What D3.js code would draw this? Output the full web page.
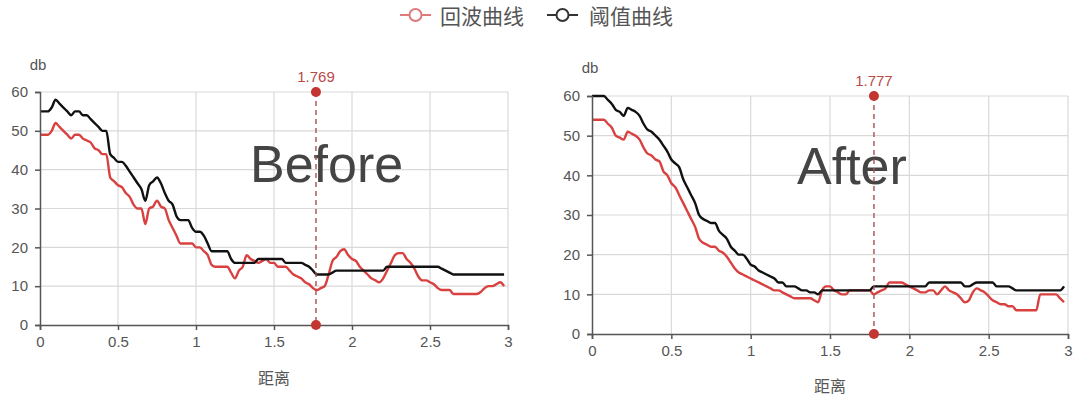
<!DOCTYPE html>
<html><head><meta charset="utf-8">
<script src="https://cdn.jsdelivr.net/npm/d3@7"></script>
<style>body{margin:0;background:#fff} svg{display:block}</style>
</head><body><svg id="c" width="1080" height="399"></svg>
<script>
const distance = [
0,0.025,0.05,0.075,0.1,0.125,0.15,0.175,0.2,0.225,
0.25,0.275,0.3,0.325,0.35,0.375,0.4,0.425,0.45,0.475,
0.5,0.525,0.55,0.575,0.6,0.625,0.65,0.675,0.7,0.725,
0.75,0.775,0.8,0.825,0.85,0.875,0.9,0.925,0.95,0.975,
1,1.025,1.05,1.075,1.1,1.125,1.15,1.175,1.2,1.225,
1.25,1.275,1.3,1.325,1.35,1.375,1.4,1.425,1.45,1.475,
1.5,1.525,1.55,1.575,1.6,1.625,1.65,1.675,1.7,1.725,
1.75,1.775,1.8,1.825,1.85,1.875,1.9,1.925,1.95,1.975,
2,2.025,2.05,2.075,2.1,2.125,2.15,2.175,2.2,2.225,
2.25,2.275,2.3,2.325,2.35,2.375,2.4,2.425,2.45,2.475,
2.5,2.525,2.55,2.575,2.6,2.625,2.65,2.675,2.7,2.725,
2.75,2.775,2.8,2.825,2.85,2.875,2.9,2.925,2.95,2.975];

const beforeEcho = [
49,49,49,50,52,51,50,49,48,49,
49,48,47.5,47,45.5,45,44,44,38,37,
36,35.5,34,33,31,30,30,26,30,30.5,
32,30.5,30,27,25,23,21,21,21,21,
20,20,19,18,15.5,15,15,15,15,13.5,
12,14,15,18,17,16.5,16,16.5,17,16,
16,15,15,15,14,13,12.5,12,11,10.5,
9.5,9,9.5,10,13,16.5,17.5,19,19.5,18,
17,16.5,15,14,13,12,11.5,11,12,14,
16,18,18.5,18.5,17,16,14.5,12.5,11.5,11.5,
11,10.5,9.5,9,9,9,8,8,8,8,
8,8,8,8.5,9.5,10,10,10.5,11,10];

const beforeThreshold = [
55,55,55,56,58,57,56,55,54,55,
55,54,54,53,52,51,50,50,44,43,
42,42,41,39.5,38,36.5,35,32,36,37,
38,36.5,34,32,31,28,27,27,27,25,
24,24,23,21,19,19,19,19,19,17,
16,16,16,16,16,16,17,17,17,17,
17,17,17,16,16,16,16,16,15.5,15,
14,13,13,13,13,13.5,14,14,14,14,
14,14,14,14,14,14,14,14,14,15,
15,15,15,15,15,15,15,15,15,15,
15,15,15,14.5,14,13.5,13,13,13,13,
13,13,13,13,13,13,13,13,13,13];

const afterEcho = [
54,54,54,54,53,52,50,49.5,49,51,
50.5,50,49,47,45.5,45,44,43.5,41,40,
38,37,35,33,31,29,27,24,23,22.5,
22,22,21,20.5,19.5,18,16.5,15.5,15,14.5,
14,13.5,13,12.5,12,11.5,11,11,10.5,10,
9.5,9,9,9,9,9,8.5,8,11,12,
12,11,10.5,10,10,11,11,11,11,11,
11,10,10.5,11,11.5,13,13,13,13,12.5,
12,11.5,11,10.5,10.5,11,11,10,11,12,
11,10.5,10,9,8,8.5,10.5,11.5,11,10.5,
9.5,8.5,8,7.5,7.5,7,7,6,6,6,
6,6,6,10,10,10,10,10,9,8];

const afterThreshold = [
60,60,60,60,59,58,56.5,56,55,57,
56.5,56,55,53,51.5,51,50,49,47.5,46,
44,43,42,39,37,35,33,30,29,28.5,
28,28,26,25,24,22,21,20,20,19,
17.5,17,16,15.5,15,14.5,14,13,13,12,
12,12,11.5,11,11,10.5,10.5,10,11,11,
11,11,11,11,11,11,11,11,11,11,
11,12,12,12,12,12,12,12,12,12,
12,12,12,12,12,13,13,13,13,13,
13,13,13,13,12,12,12.5,13,13,13,
13,13,12,12,12,12,11.5,11,11,11,
11,11,11,11,11,11,11,11,11,12];

const xTicks = [0, 0.5, 1, 1.5, 2, 2.5, 3];
const yTicks = [0, 10, 20, 30, 40, 50, 60];
const seriesNames = ["回波曲线", "阈值曲线"];
const seriesColors = ["#d8413f", "#111111"];
const markers = [1.769, 1.777];
const panelTitles = ["Before", "After"];
const xAxisName = "距离";
const yAxisName = "db";

const svg = d3.select("#c");
const SANS = "'Liberation Sans', Arial, Helvetica, sans-serif";
const CJK = "'Noto Sans CJK SC', 'Noto Sans', sans-serif";

// Legend
const legend = svg.append("g");
const legendItems = [
  {name: seriesNames[0], sym: "#e07a7a", lx: 400, tx: 440},
  {name: seriesNames[1], sym: "#333", lx: 547, tx: 589}
];
legendItems.forEach(it => {
  const g = legend.append("g");
  g.append("line").attr("x1", it.lx).attr("x2", it.lx + 31).attr("y1", 15).attr("y2", 15)
    .attr("stroke", it.sym).attr("stroke-width", 2);
  g.append("circle").attr("cx", it.lx + 15.5).attr("cy", 15).attr("r", 6)
    .attr("fill", "#fff").attr("stroke", it.sym).attr("stroke-width", 2);
  g.append("text").attr("x", it.tx).attr("y", 23.5).text(it.name)
    .attr("font-family", CJK).attr("font-size", 21).attr("fill", "#555");
});

const panels = [
  {title: panelTitles[0], echo: beforeEcho, thr: beforeThreshold, marker: markers[0],
   left: 40, right: 508, top: 92, bottom: 325, titleX: 250, titleY: 182, nameY: 384, dbY: 70},
  {title: panelTitles[1], echo: afterEcho, thr: afterThreshold, marker: markers[1],
   left: 592, right: 1068, top: 96, bottom: 334, titleX: 797, titleY: 184, nameY: 392, dbY: 73}
];

panels.forEach(p => {
  const x = d3.scaleLinear().domain([0, 3]).range([p.left, p.right]);
  const y = d3.scaleLinear().domain([0, 60]).range([p.bottom, p.top]);
  const g = svg.append("g");

  // grid
  g.append("g").selectAll("line").data(xTicks.filter(d => d > 0)).join("line")
    .attr("x1", d => x(d)).attr("x2", d => x(d)).attr("y1", y(0)).attr("y2", y(60))
    .attr("stroke", "#d9d9d9").attr("stroke-width", 1.2);
  g.append("g").selectAll("line").data(yTicks.filter(d => d > 0)).join("line")
    .attr("x1", x(0)).attr("x2", x(3)).attr("y1", d => y(d)).attr("y2", d => y(d))
    .attr("stroke", "#d9d9d9").attr("stroke-width", 1.2);

  // title
  g.append("text").attr("x", p.titleX).attr("y", p.titleY).text(p.title)
    .attr("font-family", SANS).attr("font-size", 52).attr("fill", "#444");

  // lines
  const line = d3.line().x((d, i) => x(distance[i])).y(d => y(d)).curve(d3.curveMonotoneX);
  g.append("path").datum(p.echo).attr("d", line).attr("fill", "none")
    .attr("stroke", seriesColors[0]).attr("stroke-width", 2.4).attr("stroke-linejoin", "round");
  g.append("path").datum(p.thr).attr("d", line).attr("fill", "none")
    .attr("stroke", seriesColors[1]).attr("stroke-width", 2.4).attr("stroke-linejoin", "round");

  // axes
  const xAxis = g.append("g").attr("transform", `translate(0,${y(0)})`)
    .call(d3.axisBottom(x).tickValues(xTicks).tickFormat(d3.format("~g")).tickSize(5).tickPadding(6));
  const yAxis = g.append("g").attr("transform", `translate(${x(0)},0)`)
    .call(d3.axisLeft(y).tickValues(yTicks).tickSize(5).tickPadding(7));
  [xAxis, yAxis].forEach(a => {
    a.select(".domain").attr("stroke", "#555").attr("stroke-width", 1.5);
    a.selectAll(".tick line").attr("stroke", "#555").attr("stroke-width", 1.5);
    a.selectAll("text").attr("font-family", SANS).attr("font-size", 15).attr("fill", "#555");
  });

  // axis names
  g.append("text").attr("x", (p.left + p.right) / 2).attr("y", p.nameY).attr("text-anchor", "middle")
    .text(xAxisName).attr("font-family", CJK).attr("font-size", 16).attr("fill", "#555");
  g.append("text").attr("x", x(0) - 2).attr("y", p.dbY).attr("text-anchor", "middle")
    .text(yAxisName).attr("font-family", SANS).attr("font-size", 15).attr("fill", "#555");

  // marker
  g.append("line").attr("x1", x(p.marker)).attr("x2", x(p.marker)).attr("y1", y(60)).attr("y2", y(0))
    .attr("stroke", "#a85050").attr("stroke-width", 1.4).attr("stroke-dasharray", "5,4");
  g.append("g").selectAll("circle").data([60, 0]).join("circle")
    .attr("cx", x(p.marker)).attr("cy", d => y(d)).attr("r", 5).attr("fill", "#c23531");
  g.append("text").attr("x", x(p.marker)).attr("y", y(60) - 10).attr("text-anchor", "middle")
    .text(p.marker.toFixed(3)).attr("font-family", SANS).attr("font-size", 15).attr("fill", "#b84a48");
});
</script>
</body></html>
